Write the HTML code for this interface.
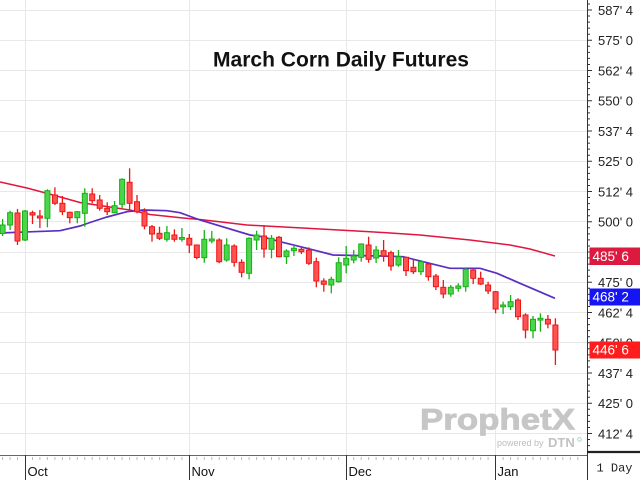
<!DOCTYPE html>
<html><head><meta charset="utf-8"><style>
html,body{margin:0;padding:0;background:#fff;}
svg{display:block;}
.g path{stroke:#18b018;stroke-width:1.3;fill:none}
.g rect{fill:#4cd44c;stroke:#18b018;stroke-width:1}
.r path{stroke:#ee1515;stroke-width:1.3;fill:none}
.r rect{fill:#ff5252;stroke:#ee1515;stroke-width:1}
text{font-family:"Liberation Sans",sans-serif;}
text.mono{font-family:"Liberation Mono",monospace;}
</style></head><body>
<svg width="640" height="480" viewBox="0 0 640 480" xmlns="http://www.w3.org/2000/svg">
<defs>
<linearGradient id="og" x1="0" y1="0" x2="0" y2="1">
<stop offset="0" stop-color="#7ab6e4"/><stop offset="1" stop-color="#a6d08a"/>
</linearGradient>
</defs>
<rect width="640" height="480" fill="#fff"/>
<!-- horizontal grid -->
<g stroke="#e8e8e8" stroke-width="1">
<path d="M0 10.5H587M0 40.5H587M0 70.5H587M0 100.5H587M0 131.5H587M0 161.5H587M0 191.5H587M0 221.5H587M0 252.5H587M0 282.5H587M0 312.5H587M0 342.5H587M0 373.5H587M0 403.5H587M0 433.5H587"/>
<path d="M25.5 0V455M189.5 0V455M346.5 0V455M495.5 0V455"/>
</g>
<!-- title -->
<text x="213" y="66.5" font-size="21" font-weight="bold" fill="#111" textLength="256" lengthAdjust="spacingAndGlyphs">March Corn Daily Futures</text>
<!-- watermark -->
<text x="420" y="429.5" font-size="30" font-weight="bold" fill="#c6c6c6" stroke="#c6c6c6" stroke-width="0.8" textLength="155" lengthAdjust="spacingAndGlyphs">ProphetX</text>
<text x="497" y="446" font-size="9" fill="#bdbdbd">powered by</text>
<text x="548" y="447" font-size="13" font-weight="bold" fill="#c2c2c2">DTN</text>
<circle cx="579.5" cy="439.5" r="1.8" fill="none" stroke="#9cc9c0" stroke-width="0.8"/>
<!-- moving averages -->
<polyline fill="none" stroke="#e0163f" stroke-width="1.5" points="0,182 27,188 53,195 80,202.5 100,205.5 130,210 150,214.5 183,218 200,219.5 247,225 307,228.3 370,231.7 420,235 470,240 510,245 530,249 555,256"/>
<polyline fill="none" stroke="#5a2ec0" stroke-width="1.7" points="0,233 33,231.7 60,230.7 80,226 90,222.5 107,217 127,211.7 143,210 167,210.7 180,212.7 200,220 250,235 262,236.7 280,241.7 307,248.3 333,255 380,256 403,256.7 427,262.7 450,268.3 480,268.3 497,273.3 520,283.3 555,298.3"/>
<!-- candles -->
<g class="g"><path d="M2.6 219V236"/><rect x="0.1" y="225" width="5" height="8.5"/></g>
<g class="g"><path d="M10.1 210.7V230"/><rect x="7.6" y="212.7" width="5" height="12.3"/></g>
<g class="r"><path d="M17.5 209V245"/><rect x="15" y="213" width="5" height="28"/></g>
<g class="g"><path d="M25 210V241"/><rect x="22.5" y="211" width="5" height="29"/></g>
<g class="r"><path d="M32.5 210.7V224"/><rect x="30" y="212.7" width="5" height="2.3"/></g>
<g class="r"><path d="M39.9 210V228"/><rect x="37.4" y="216" width="5" height="2"/></g>
<g class="g"><path d="M47.4 189.3V227.3"/><rect x="44.9" y="190.7" width="5" height="27.6"/></g>
<g class="r"><path d="M54.9 187.3V205"/><rect x="52.4" y="195" width="5" height="8.3"/></g>
<g class="r"><path d="M62.4 196V215"/><rect x="59.9" y="203.3" width="5" height="8.4"/></g>
<g class="r"><path d="M69.8 211.7V223.3"/><rect x="67.3" y="212.3" width="5" height="5.4"/></g>
<g class="g"><path d="M77.3 211V223.3"/><rect x="74.8" y="211.7" width="5" height="6"/></g>
<g class="g"><path d="M84.8 188.3V226.7"/><rect x="82.3" y="193.3" width="5" height="20"/></g>
<g class="r"><path d="M92.2 188.3V203.3"/><rect x="89.7" y="194" width="5" height="6.7"/></g>
<g class="r"><path d="M99.7 195V210.7"/><rect x="97.2" y="200" width="5" height="8.3"/></g>
<g class="r"><path d="M107.2 202.3V215"/><rect x="104.7" y="208.3" width="5" height="3.4"/></g>
<g class="g"><path d="M114.6 201V213.3"/><rect x="112.1" y="205.7" width="5" height="7"/></g>
<g class="g"><path d="M122.1 178.3V208.3"/><rect x="119.6" y="179.3" width="5" height="25"/></g>
<g class="r"><path d="M129.6 168.3V210"/><rect x="127.1" y="182.3" width="5" height="21"/></g>
<g class="r"><path d="M137 195V213.3"/><rect x="134.5" y="201.7" width="5" height="10"/></g>
<g class="r"><path d="M144.5 208.3V229.3"/><rect x="142" y="211.7" width="5" height="14.3"/></g>
<g class="r"><path d="M152 225V241.7"/><rect x="149.5" y="226.7" width="5" height="7.3"/></g>
<g class="r"><path d="M159.5 226.7V240"/><rect x="157" y="233.3" width="5" height="5"/></g>
<g class="g"><path d="M166.9 226V241.7"/><rect x="164.4" y="232.7" width="5" height="6.6"/></g>
<g class="r"><path d="M174.4 229.3V241.7"/><rect x="171.9" y="235" width="5" height="4.3"/></g>
<g class="g"><path d="M181.9 228V241.7"/><rect x="179.4" y="237.5" width="5" height="1.8"/></g>
<g class="r"><path d="M189.3 234V253"/><rect x="186.8" y="238.3" width="5" height="6.7"/></g>
<g class="r"><path d="M196.8 245V259.3"/><rect x="194.3" y="245" width="5" height="12.5"/></g>
<g class="g"><path d="M204.3 230V262.7"/><rect x="201.8" y="239.3" width="5" height="18.4"/></g>
<g class="g"><path d="M211.8 231V243.3"/><rect x="209.3" y="239" width="5" height="2"/></g>
<g class="r"><path d="M219.2 238.3V263.3"/><rect x="216.7" y="240" width="5" height="21.7"/></g>
<g class="g"><path d="M226.7 238.3V261.7"/><rect x="224.2" y="245" width="5" height="15"/></g>
<g class="r"><path d="M234.2 244.3V266.7"/><rect x="231.7" y="246" width="5" height="16.3"/></g>
<g class="r"><path d="M241.6 259.3V277.3"/><rect x="239.1" y="262.3" width="5" height="10"/></g>
<g class="g"><path d="M249.1 237.3V279.3"/><rect x="246.6" y="238.3" width="5" height="35"/></g>
<g class="g"><path d="M256.6 230.7V250"/><rect x="254.1" y="235" width="5" height="5"/></g>
<g class="r"><path d="M264 225V257.7"/><rect x="261.5" y="236" width="5" height="13"/></g>
<g class="g"><path d="M271.5 235V258.3"/><rect x="269" y="238.3" width="5" height="11"/></g>
<g class="r"><path d="M279 236V257.3"/><rect x="276.5" y="237.3" width="5" height="19.4"/></g>
<g class="g"><path d="M286.5 249.3V264"/><rect x="284" y="251" width="5" height="5.7"/></g>
<g class="g"><path d="M293.9 245V256"/><rect x="291.4" y="248.3" width="5" height="2.4"/></g>
<g class="r"><path d="M301.4 246.7V254"/><rect x="298.9" y="249.3" width="5" height="2.4"/></g>
<g class="r"><path d="M308.9 247.3V265"/><rect x="306.4" y="250" width="5" height="13.3"/></g>
<g class="r"><path d="M316.3 257.7V287.3"/><rect x="313.8" y="261.7" width="5" height="19.3"/></g>
<g class="r"><path d="M323.8 278.3V291.7"/><rect x="321.3" y="281" width="5" height="3.3"/></g>
<g class="g"><path d="M331.3 276.7V293.3"/><rect x="328.8" y="279.3" width="5" height="5.7"/></g>
<g class="g"><path d="M338.7 257.3V282.7"/><rect x="336.2" y="262.7" width="5" height="19"/></g>
<g class="g"><path d="M346.2 246V273.3"/><rect x="343.7" y="258.3" width="5" height="6.7"/></g>
<g class="g"><path d="M353.7 250V263.3"/><rect x="351.2" y="256" width="5" height="4"/></g>
<g class="g"><path d="M361.2 243.3V261.7"/><rect x="358.7" y="244" width="5" height="13.3"/></g>
<g class="r"><path d="M368.6 236.7V262.7"/><rect x="366.1" y="245" width="5" height="14.3"/></g>
<g class="g"><path d="M376.1 246V263"/><rect x="373.6" y="250" width="5" height="8"/></g>
<g class="r"><path d="M383.6 240V261.7"/><rect x="381.1" y="250.7" width="5" height="5.3"/></g>
<g class="r"><path d="M391 250.7V270.7"/><rect x="388.5" y="252.7" width="5" height="13.3"/></g>
<g class="g"><path d="M398.5 250V266.7"/><rect x="396" y="256.7" width="5" height="8.3"/></g>
<g class="r"><path d="M406 256.7V276"/><rect x="403.5" y="257.3" width="5" height="13.4"/></g>
<g class="r"><path d="M413.4 259.3V274"/><rect x="410.9" y="267.3" width="5" height="4.4"/></g>
<g class="g"><path d="M420.9 260V275"/><rect x="418.4" y="261.7" width="5" height="10"/></g>
<g class="r"><path d="M428.4 263.3V280.7"/><rect x="425.9" y="264" width="5" height="12.7"/></g>
<g class="r"><path d="M435.9 274V290"/><rect x="433.4" y="276" width="5" height="10.7"/></g>
<g class="r"><path d="M443.3 280V298.3"/><rect x="440.8" y="287.3" width="5" height="6.7"/></g>
<g class="g"><path d="M450.8 285V296.7"/><rect x="448.3" y="287.3" width="5" height="6.7"/></g>
<g class="g"><path d="M458.3 283.3V291.7"/><rect x="455.8" y="286" width="5" height="2.3"/></g>
<g class="g"><path d="M465.7 267.3V291.7"/><rect x="463.2" y="269.3" width="5" height="17.4"/></g>
<g class="r"><path d="M473.2 268.3V284"/><rect x="470.7" y="270" width="5" height="8.3"/></g>
<g class="r"><path d="M480.7 271.7V285"/><rect x="478.2" y="278.3" width="5" height="5.7"/></g>
<g class="r"><path d="M488.1 281.7V294"/><rect x="485.6" y="285" width="5" height="6"/></g>
<g class="r"><path d="M495.6 291V313.3"/><rect x="493.1" y="291.7" width="5" height="17.3"/></g>
<g class="g"><path d="M503.1 301.7V314"/><rect x="500.6" y="305" width="5" height="1.8"/></g>
<g class="g"><path d="M510.6 295V310"/><rect x="508.1" y="301.7" width="5" height="5"/></g>
<g class="r"><path d="M518 298.3V320"/><rect x="515.5" y="300" width="5" height="16.7"/></g>
<g class="r"><path d="M525.5 313.3V338.3"/><rect x="523" y="315" width="5" height="15"/></g>
<g class="g"><path d="M533 316V338.3"/><rect x="530.5" y="319.3" width="5" height="11.4"/></g>
<g class="g"><path d="M540.4 313.3V331.7"/><rect x="537.9" y="318.3" width="5" height="1.8"/></g>
<g class="r"><path d="M547.9 315V328.3"/><rect x="545.4" y="319.3" width="5" height="4.7"/></g>
<g class="r"><path d="M555.4 318.3V365"/><rect x="552.9" y="325" width="5" height="25"/></g>
<!-- right panel -->
<rect x="588" y="0" width="52" height="480" fill="#fff"/>
<path d="M587.5 0V480" stroke="#333" stroke-width="1"/>
<path d="M0 455.5H587" stroke="#666" stroke-width="1"/>
<path d="M587 452H640" stroke="#222" stroke-width="2.2"/>
<g stroke="#333" stroke-width="1">
<path d="M587 3.95h3M587 16.05h3M587 22.1h3M587 28.15h3M587 34.2h3M587 46.3h3M587 52.35h3M587 58.4h3M587 64.45h3M587 76.55h3M587 82.6h3M587 88.65h3M587 94.7h3M587 106.8h3M587 112.85h3M587 118.9h3M587 124.95h3M587 137.05h3M587 143.1h3M587 149.15h3M587 155.2h3M587 167.3h3M587 173.35h3M587 179.4h3M587 185.45h3M587 197.55h3M587 203.6h3M587 209.65h3M587 215.7h3M587 227.8h3M587 233.85h3M587 239.9h3M587 245.95h3M587 258.05h3M587 264.1h3M587 270.15h3M587 276.2h3M587 288.3h3M587 294.35h3M587 300.4h3M587 306.45h3M587 318.55h3M587 324.6h3M587 330.65h3M587 336.7h3M587 348.8h3M587 354.85h3M587 360.9h3M587 366.95h3M587 379.05h3M587 385.1h3M587 391.15h3M587 397.2h3M587 409.3h3M587 415.35h3M587 421.4h3M587 427.45h3M587 439.55h3M587 445.6h3"/>
<path d="M587 10h5M587 40.25h5M587 70.5h5M587 100.75h5M587 131h5M587 161.25h5M587 191.5h5M587 221.75h5M587 252h5M587 282.25h5M587 312.5h5M587 342.75h5M587 373h5M587 403.25h5M587 433.5h5"/>
</g>
<g font-size="13" fill="#222">
<text x="598" y="15">587' 4</text>
<text x="598" y="45.2">575' 0</text>
<text x="598" y="75.5">562' 4</text>
<text x="598" y="105.7">550' 0</text>
<text x="598" y="136">537' 4</text>
<text x="598" y="166.2">525' 0</text>
<text x="598" y="196.5">512' 4</text>
<text x="598" y="226.7">500' 0</text>
<text x="598" y="257">487' 4</text>
<text x="598" y="287.2">475' 0</text>
<text x="598" y="317.5">462' 4</text>
<text x="598" y="347.7">450' 0</text>
<text x="598" y="378">437' 4</text>
<text x="598" y="408.2">425' 0</text>
<text x="598" y="438.5">412' 4</text>
</g>
<!-- value flags -->
<rect x="589.5" y="247.5" width="51" height="17.5" fill="#dc1a40"/>
<text x="592.5" y="261" font-size="13.5" fill="#fff">485' 6</text>
<rect x="589.5" y="288.5" width="51" height="17" fill="#1414f5"/>
<text x="592.5" y="301.5" font-size="13.5" fill="#fff">468' 2</text>
<rect x="589.5" y="341.5" width="51" height="17" fill="#ff1c1c"/>
<text x="592.5" y="354.5" font-size="13.5" fill="#fff">446' 6</text>
<!-- bottom axis -->
<g stroke="#bbb" stroke-width="1">
<path d="M2.6 457V460M10.1 457V460M17.5 457V460M32.5 457V460M39.9 457V460M47.4 457V460M54.9 457V460M62.4 457V460M69.8 457V460M77.3 457V460M84.8 457V460M92.2 457V460M99.7 457V460M107.2 457V460M114.6 457V460M122.1 457V460M129.6 457V460M137 457V460M144.5 457V460M152 457V460M159.5 457V460M166.9 457V460M174.4 457V460M181.9 457V460M196.8 457V460M204.3 457V460M211.8 457V460M219.2 457V460M226.7 457V460M234.2 457V460M241.6 457V460M249.1 457V460M256.6 457V460M264 457V460M271.5 457V460M279 457V460M286.5 457V460M293.9 457V460M301.4 457V460M308.9 457V460M316.3 457V460M323.8 457V460M331.3 457V460M338.7 457V460M353.7 457V460M361.2 457V460M368.6 457V460M376.1 457V460M383.6 457V460M391 457V460M398.5 457V460M406 457V460M413.4 457V460M420.9 457V460M428.4 457V460M435.9 457V460M443.3 457V460M450.8 457V460M458.3 457V460M465.7 457V460M473.2 457V460M480.7 457V460M488.1 457V460M503.1 457V460M510.6 457V460M518 457V460M525.5 457V460M533 457V460M540.4 457V460M547.9 457V460M555.4 457V460M562.8 457V460M570.3 457V460M577.8 457V460"/>
</g>
<path d="M25.5 455V480M189.5 455V480M346.5 455V480M495.5 455V480" stroke="#333" stroke-width="1"/>
<g font-size="13" fill="#111">
<text x="27.5" y="476">Oct</text>
<text x="191.5" y="476">Nov</text>
<text x="348.5" y="476">Dec</text>
<text x="497.5" y="476">Jan</text>
</g>
<text class="mono" x="596.5" y="471.5" font-size="12" fill="#222">1 Day</text>
</svg>
</body></html>
